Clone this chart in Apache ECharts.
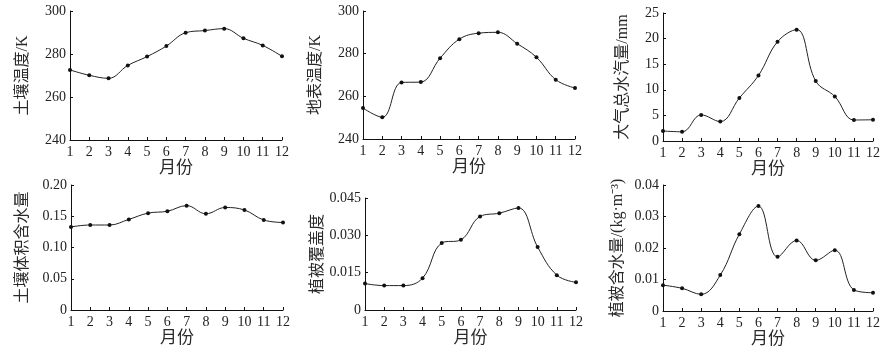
<!DOCTYPE html>
<html>
<head>
<meta charset="utf-8">
<script src="https://cdn.jsdelivr.net/npm/echarts@6/dist/echarts.min.js"></script>
<style>
  html, body { margin: 0; padding: 0; background: #fff; }
</style>
</head>
<body>
<div id="main" style="width:889px;height:352px"></div>
<script>
// 月份
var months = ["1", "2", "3", "4", "5", "6", "7", "8", "9", "10", "11", "12"];
// 土壤温度/K
var soilTemp = [272.6, 270.1, 268.7, 274.7, 278.8, 283.7, 289.9, 290.9, 291.8, 287.3, 284.0, 278.9];
// 地表温度/K
var surfTemp = [254.5, 250.2, 266.5, 266.7, 277.9, 286.8, 289.6, 290.0, 284.7, 278.3, 267.8, 263.9];
// 大气总水汽量/mm
var vapor = [1.95, 1.8, 5.1, 3.8, 8.4, 12.8, 19.4, 21.75, 11.7, 8.7, 4.1, 4.15];
// 土壤体积含水量
var soilWater = [0.133, 0.136, 0.136, 0.145, 0.155, 0.158, 0.167, 0.154, 0.164, 0.160, 0.144, 0.140];
// 植被覆盖度
var vegCover = [0.0106, 0.0098, 0.0098, 0.0128, 0.0269, 0.0282, 0.0376, 0.0389, 0.0410, 0.0253, 0.0140, 0.0111];
// 植被含水量/(kg·m-3)
var vegWater = [0.0082, 0.0072, 0.0053, 0.0114, 0.0244, 0.0333, 0.0172, 0.0224, 0.0161, 0.0193, 0.0067, 0.0058];

var numFont = "'Liberation Serif', 'Times New Roman', serif";
var cnFont = "'Liberation Serif', 'Noto Sans CJK SC', serif";

var panels = [
  { name: "土壤温度/K", data: soilTemp, min: 240, max: 300, interval: 20, digits: 0, gap: 39,
    grid: { left: 70, top: 11, width: 212, height: 129 } },
  { name: "地表温度/K", data: surfTemp, min: 240, max: 300, interval: 20, digits: 0, gap: 39,
    grid: { left: 363, top: 11, width: 212, height: 128 } },
  { name: "大气总水汽量/mm", data: vapor, min: 0, max: 25, interval: 5, digits: 0, gap: 32,
    grid: { left: 663, top: 13, width: 210, height: 128 } },
  { name: "土壤体积含水量", data: soilWater, min: 0, max: 0.2, interval: 0.05, digits: 2, gap: 40,
    grid: { left: 71, top: 185, width: 212, height: 125 } },
  { name: "植被覆盖度", data: vegCover, min: 0, max: 0.045, interval: 0.015, digits: 3, gap: 38,
    grid: { left: 365, top: 198, width: 211, height: 112 } },
  { name: "植被含水量/(kg·m⁻³)", data: vegWater, min: 0, max: 0.04, interval: 0.01, digits: 2, gap: 37,
    grid: { left: 663, top: 185, width: 210, height: 126 } }
];

var myEcharts = echarts.init(document.getElementById("main"));
var grids = [], xAxes = [], yAxes = [], series = [];

panels.forEach(function (p, i) {
  grids.push(p.grid);
  xAxes.push({
    type: "category",
    gridIndex: i,
    data: months,
    boundaryGap: false,
    name: "月份",
    nameLocation: "middle",
    nameGap: 19,
    nameTextStyle: { fontFamily: cnFont, fontSize: 17, color: "#2a2a2a" },
    axisLine: { lineStyle: { color: "#111", width: 1 } },
    axisTick: { inside: true, length: 3, alignWithLabel: true, lineStyle: { color: "#111" } },
    axisLabel: { margin: 5, interval: 0, fontFamily: numFont, fontSize: 14, color: "#222" },
    splitLine: { show: false }
  });
  yAxes.push({
    type: "value",
    gridIndex: i,
    min: p.min,
    max: p.max,
    interval: p.interval,
    name: p.name,
    nameLocation: "middle",
    nameGap: p.gap,
    nameRotate: 90,
    nameTextStyle: { fontFamily: cnFont, fontSize: 16, color: "#2a2a2a" },
    axisLine: { show: true, lineStyle: { color: "#111", width: 1 } },
    axisTick: { show: true, inside: true, length: 3, lineStyle: { color: "#111" } },
    axisLabel: {
      margin: 4,
      fontFamily: numFont,
      fontSize: 14,
      color: "#222",
      formatter: function (v) {
        if (Math.abs(v) < 1e-9) return "0";
        return v.toFixed(p.digits);
      }
    },
    splitLine: { show: false }
  });
  series.push({
    type: "line",
    xAxisIndex: i,
    yAxisIndex: i,
    data: p.data,
    smooth: 0.4,
    symbol: "circle",
    symbolSize: 4,
    itemStyle: { color: "#111" },
    lineStyle: { color: "#222", width: 1 }
  });
});

myEcharts.setOption({
  animation: false,
  grid: grids,
  xAxis: xAxes,
  yAxis: yAxes,
  series: series
});
</script>
</body>
</html>
